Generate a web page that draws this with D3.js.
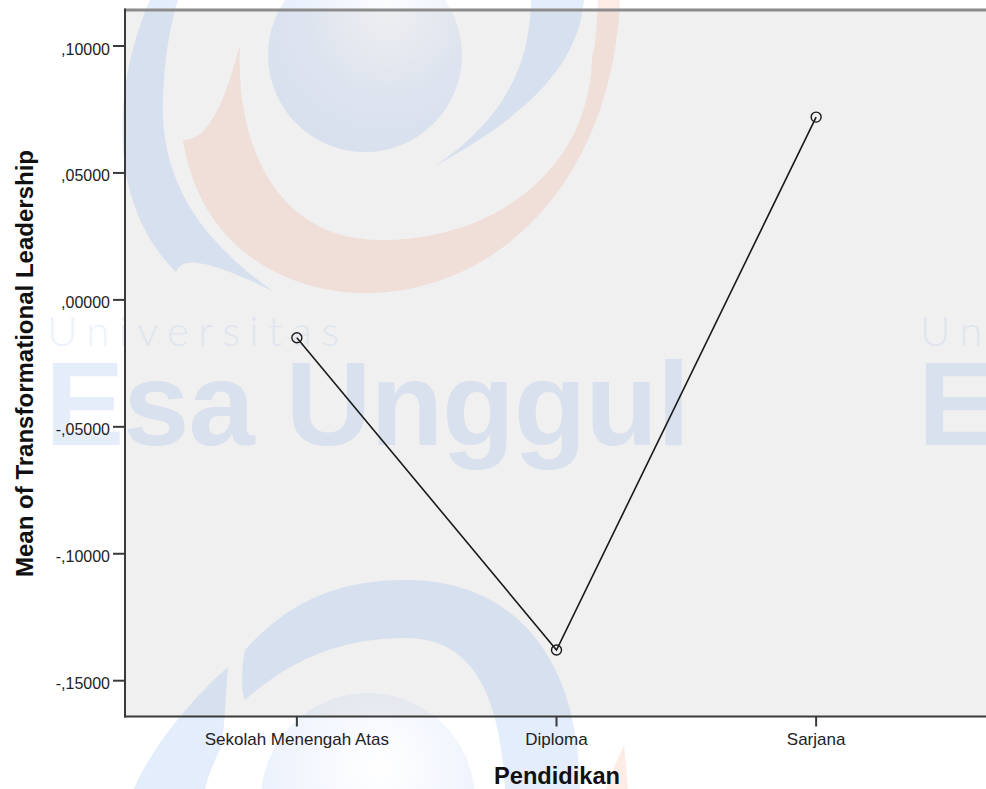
<!DOCTYPE html>
<html>
<head>
<meta charset="utf-8">
<script src="https://cdn.jsdelivr.net/npm/d3@7"></script>
<style>
  html, body { margin: 0; padding: 0; background: #ffffff; }
  svg { display: block; }
</style>
</head>
<body>
<script>
// ---------------- data ----------------
const categories = ["Sekolah Menengah Atas", "Diploma", "Sarjana"];
const means = [-0.0149, -0.1379, 0.0720];
const yTickValues = [0.10, 0.05, 0.00, -0.05, -0.10, -0.15];
const yTickLabels = [",10000", ",05000", ",00000", "-,05000", "-,10000", "-,15000"];
const yLimits = [-0.1641, 0.1142];
const xTitle = "Pendidikan";
const yTitle = "Mean of Transformational Leadership";

// ---------------- layout ----------------
const W = 986, H = 789;
const plotLeft = 125, plotRight = 988;

const svg = d3.select("body").append("svg")
  .attr("width", W).attr("height", H)
  .attr("viewBox", `0 0 ${W} ${H}`);

const y = d3.scaleLinear().domain([-0.15, 0.10]).range([680.7, 46]);
const x = d3.scalePoint().domain(categories).range([plotLeft, plotRight]).padding(0.662);

const plotTop = y(yLimits[1]);
const plotBottom = y(yLimits[0]);

svg.append("rect").attr("width", W).attr("height", H).attr("fill", "#ffffff");
svg.append("rect")
  .attr("x", plotLeft).attr("y", plotTop)
  .attr("width", plotRight - plotLeft).attr("height", plotBottom - plotTop)
  .attr("fill", "#f0f0f0");

// ---------------- watermark (decorative background) ----------------
const defs = svg.append("defs");
const rg = defs.append("radialGradient").attr("id", "glow")
  .attr("cx", "0.62").attr("cy", "0.28").attr("r", "0.75");
rg.append("stop").attr("offset", "0").attr("stop-color", "#5a8ce6").attr("stop-opacity", 0.02);
rg.append("stop").attr("offset", "0.55").attr("stop-color", "#5a8ce6").attr("stop-opacity", 0.12);
rg.append("stop").attr("offset", "1").attr("stop-color", "#5a8ce6").attr("stop-opacity", 0.16);
const rg2 = defs.append("radialGradient").attr("id", "glow2")
  .attr("cx", "0.55").attr("cy", "0.35").attr("r", "0.7");
rg2.append("stop").attr("offset", "0").attr("stop-color", "#5a8ce6").attr("stop-opacity", 0.0);
rg2.append("stop").attr("offset", "1").attr("stop-color", "#5a8ce6").attr("stop-opacity", 0.15);

const wm = svg.append("g").attr("class", "watermark");
const blue = "#5a8ce6", blueOp = 0.16;
const orange = "#f07850", orangeOp = 0.14;

// top logo
wm.append("circle").attr("cx", 365).attr("cy", 55).attr("r", 97).attr("fill", "url(#glow)");
wm.append("path")
  .attr("d", "M183,140 C200,250 290,295 370,293 C500,290 612,180 620,0 L598,0 C596,40 594,50 592,58 C590,165 500,240 380,240 C280,240 235,150 240,45 C225,100 210,140 183,140 Z")
  .attr("fill", orange).attr("opacity", orangeOp);
wm.append("path")
  .attr("d", "M150,0 C115,80 103,200 176,272 C182,258 200,256 273,291 C200,240 160,180 163,100 C164,60 170,25 178,0 Z")
  .attr("fill", blue).attr("opacity", blueOp);
wm.append("path")
  .attr("d", "M531,0 C530,70 500,122 435,166 C515,122 578,72 584,0 Z")
  .attr("fill", blue).attr("opacity", blueOp);

// bottom logo
wm.append("path")
  .attr("d", "M245,650 C290,600 340,580 406,580 C500,580 578,640 580,789 L505,789 C500,690 470,638 406,638 C340,638 290,660 245,700 C240,690 242,665 245,650 Z")
  .attr("fill", blue).attr("opacity", blueOp);
wm.append("path")
  .attr("d", "M228,667 C190,700 150,750 134,789 L205,789 C210,770 215,760 222,745 C225,720 226,690 228,667 Z")
  .attr("fill", blue).attr("opacity", blueOp);
wm.append("circle").attr("cx", 368).attr("cy", 800).attr("r", 107).attr("fill", "url(#glow2)");
wm.append("path")
  .attr("d", "M606,789 C612,772 618,758 624,745 L628,789 Z")
  .attr("fill", orange).attr("opacity", orangeOp);

// text watermark (two copies)
[0, 873].forEach(dx => {
  wm.append("text")
    .attr("x", 47 + dx).attr("y", 346)
    .attr("font-family", "Lato, 'Open Sans', sans-serif")
    .attr("font-weight", 300)
    .attr("font-size", 42)
    .attr("textLength", 292).attr("lengthAdjust", "spacing")
    .attr("fill", blue).attr("opacity", 0.11)
    .text("Universitas");
  wm.append("text")
    .attr("x", 45 + dx).attr("y", 445)
    .attr("font-family", "'Liberation Sans', Arial, sans-serif")
    .attr("font-weight", 700)
    .attr("font-size", 119)
    .attr("textLength", 645).attr("lengthAdjust", "spacing")
    .attr("fill", blue).attr("opacity", 0.15)
    .text("Esa Unggul");
});

// ---------------- frame ----------------
svg.append("line").attr("x1", plotLeft).attr("x2", W).attr("y1", plotTop).attr("y2", plotTop)
  .attr("stroke", "#8c8c8c").attr("stroke-width", 3);
svg.append("line").attr("x1", plotLeft).attr("x2", plotLeft).attr("y1", plotTop - 1.5).attr("y2", plotBottom + 1)
  .attr("stroke", "#3a3a3a").attr("stroke-width", 2);
svg.append("line").attr("x1", plotLeft - 1).attr("x2", W).attr("y1", plotBottom).attr("y2", plotBottom)
  .attr("stroke", "#3a3a3a").attr("stroke-width", 2);

// ---------------- y axis ----------------
const yAxis = svg.append("g");
yTickValues.forEach((v, i) => {
  const yy = y(v);
  yAxis.append("line").attr("x1", plotLeft - 12).attr("x2", plotLeft).attr("y1", yy).attr("y2", yy)
    .attr("stroke", "#3a3a3a").attr("stroke-width", 2);
  yAxis.append("text")
    .attr("x", plotLeft - 15).attr("y", yy + 8.5)
    .attr("text-anchor", "end")
    .attr("font-family", "'Liberation Sans', Arial, sans-serif")
    .attr("font-size", 16).attr("fill", "#222")
    .text(yTickLabels[i]);
});

// ---------------- x axis ----------------
const xAxis = svg.append("g");
categories.forEach(c => {
  const xx = x(c);
  xAxis.append("line").attr("x1", xx).attr("x2", xx).attr("y1", plotBottom).attr("y2", plotBottom + 10)
    .attr("stroke", "#3a3a3a").attr("stroke-width", 2);
  xAxis.append("text")
    .attr("x", xx).attr("y", 745)
    .attr("text-anchor", "middle")
    .attr("font-family", "'Liberation Sans', Arial, sans-serif")
    .attr("font-size", 17).attr("fill", "#222")
    .text(c);
});

// ---------------- titles ----------------
svg.append("text")
  .attr("x", 557).attr("y", 784)
  .attr("text-anchor", "middle")
  .attr("font-family", "'Liberation Sans', Arial, sans-serif")
  .attr("font-weight", 700).attr("font-size", 23)
  .attr("textLength", 126).attr("lengthAdjust", "spacingAndGlyphs")
  .attr("fill", "#111")
  .text(xTitle);
svg.append("text")
  .attr("transform", `translate(33,${363.5}) rotate(-90)`)
  .attr("text-anchor", "middle")
  .attr("font-family", "'Liberation Sans', Arial, sans-serif")
  .attr("font-weight", 700).attr("font-size", 23.5)
  .attr("textLength", 427).attr("lengthAdjust", "spacingAndGlyphs")
  .attr("fill", "#111")
  .text(yTitle);

// ---------------- data line + markers ----------------
const pts = categories.map((c, i) => ({ c, v: means[i] }));
svg.append("path")
  .datum(pts)
  .attr("d", d3.line().x(d => x(d.c)).y(d => y(d.v)))
  .attr("fill", "none").attr("stroke", "#1a1a1a").attr("stroke-width", 1.6);
svg.selectAll("circle.pt").data(pts).join("circle")
  .attr("class", "pt")
  .attr("cx", d => x(d.c)).attr("cy", d => y(d.v)).attr("r", 5)
  .attr("fill", "none").attr("stroke", "#1a1a1a").attr("stroke-width", 1.4);
</script>
</body>
</html>
